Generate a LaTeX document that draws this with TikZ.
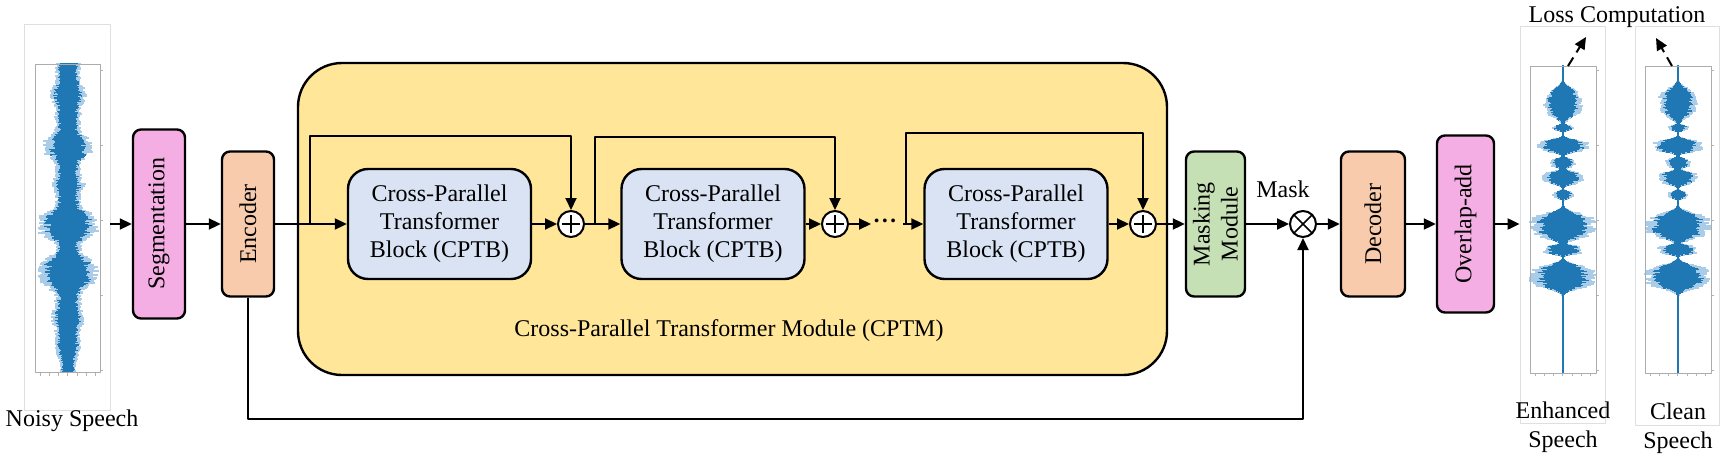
\documentclass[tikz,border=0pt]{standalone}
\usepackage{fontspec}
\setmainfont{Liberation Serif}
\usetikzlibrary{arrows.meta,positioning,calc}

\definecolor{cptmyellow}{HTML}{FFE699}
\definecolor{cptbblue}{HTML}{DAE3F3}
\definecolor{segpink}{HTML}{F4AEE4}
\definecolor{encpeach}{HTML}{F8CBAD}
\definecolor{maskgreen}{HTML}{C5E0B4}
\definecolor{wavedarkc}{HTML}{1F77B4}
\definecolor{wavelightc}{HTML}{A9CCE8}

\tikzset{
  blk/.style={draw, line width=1.2pt, rounded corners=4pt, inner sep=0pt,
    font=\fontsize{12}{14}\selectfont, align=center},
  vblk/.style={blk, rotate=90},
  cptb/.style={blk, fill=cptbblue, rounded corners=10pt,
    minimum width=91.5pt, minimum height=55pt},
  opnode/.style={draw, circle, line width=1pt, fill=white, minimum size=13pt, inner sep=0pt},
  addnode/.style={opnode, path picture={
    \draw[line width=0.6pt] ([xshift=-4.5pt]path picture bounding box.center) -- ([xshift=4.5pt]path picture bounding box.center)
      ([yshift=-4.5pt]path picture bounding box.center) -- ([yshift=4.5pt]path picture bounding box.center);}},
  mulnode/.style={opnode, path picture={
    \draw[line width=0.8pt] (path picture bounding box.north west) -- (path picture bounding box.south east)
      (path picture bounding box.north east) -- (path picture bounding box.south west);}},
  flow/.style={->, line width=1pt},
  outerframe/.style={draw=gray!25, line width=0.4pt, inner sep=0pt},
  plotframe/.style={draw=gray!65, line width=0.5pt},
  wavelight/.style={wavelightc, line width=0.6pt},
  wavedark/.style={wavedarkc, line width=0.6pt},
  lbl/.style={font=\fontsize{12}{14.5}\selectfont, align=center},
}

% center x, top y, bottom y, envelope
\newcommand\speechwave[4]{%
  \foreach \yy in {#2,...,#3}{
    \pgfmathsetmacro\ee{#4(\yy)}
    \pgfmathsetmacro\la{\ee*(0.9+0.4*rnd)+0.7}
    \pgfmathsetmacro\ra{\ee*(0.9+0.4*rnd)+0.7}
    \pgfmathsetmacro\lb{\ee*(0.65+0.35*rnd)+0.7}
    \pgfmathsetmacro\rb{\ee*(0.65+0.35*rnd)+0.7}
    \draw[wavelight] (#1-\la,\yy) -- (#1+\ra,\yy);
    \draw[wavedark] (#1-\lb,\yy) -- (#1+\rb,\yy);
  }}

\begin{document}
\begin{tikzpicture}[x=0.5pt, y=-0.5pt, >={Triangle[length=6pt,width=5.5pt]},
  line join=round,
  declare function={
    bump(\t,\c,\s)=exp(-min(((\t-\c)/\s)^2,20)^2);
    envN(\t)=10+4*bump(\t,95,10)+9*bump(\t,147,12)+3*bump(\t,185,6)
      +14*bump(\t,225,14)+14*bump(\t,273,16)+3*bump(\t,318,8)-4*bump(\t,372,18);
    envE(\t)=15*bump(\t,103,16)+8*bump(\t,128,3)+20*bump(\t,146,7)
      +10*bump(\t,163,5)+16*bump(\t,178,7)+8*bump(\t,195,4)
      +26*bump(\t,226,14)+16*bump(\t,250,5)+26*bump(\t,277,13);
  }]
\useasboundingbox (0,0) rectangle (1730,466);
\pgfmathsetseed{11}

% speech plots
\node[outerframe, minimum width=43pt, minimum height=193pt] (noisy) at (67,217) {};
\node[outerframe, minimum width=42.5pt, minimum height=198.5pt] (enh) at (1562.5,224.5) {};
\node[outerframe, minimum width=42pt, minimum height=199.5pt] (clean) at (1677,225.5) {};
\speechwave{68}{64}{372}{envN}
\speechwave{1563}{66}{373}{envE}
\speechwave{1678}{66}{373}{envE}
\draw[plotframe] (35,64) rectangle (100,372);
\draw[plotframe] (1530,66) rectangle (1596,373);
\draw[plotframe] (1645,66) rectangle (1711,373);
\foreach \px in {100,1596,1711}
  \foreach \py in {0,1,2,3,4}
    \draw[gray!60, line width=0.3pt] (\px,{70+\py*75}) -- ++(3,0);
\foreach \px in {35,1530,1645}
  \foreach \i in {0,...,6}
    \draw[gray!60, line width=0.3pt] ({\px+5+\i*9.2},373) -- ++(0,3);

% main blocks
\node[blk, fill=cptmyellow, rounded corners=22pt, minimum width=434.5pt, minimum height=156pt] (cptm) at (732.5,219) {};
\node[lbl] (cptmlbl) at (729,331) {Cross-Parallel Transformer Module (CPTM)};
\node[vblk, fill=segpink, minimum width=94.5pt, minimum height=26pt] (seg) at (159,224) {Segmentation};
\node[vblk, fill=encpeach, minimum width=72.5pt, minimum height=26pt] (enc) at (248,224) {Encoder};
\node[cptb] (b1) at (439.5,224) {Cross-Parallel\\Transformer\\Block (CPTB)};
\node[cptb] (b2) at (713,224) {Cross-Parallel\\Transformer\\Block (CPTB)};
\node[cptb] (b3) at (1016,224) {Cross-Parallel\\Transformer\\Block (CPTB)};
\node[addnode] (add1) at (571,224) {};
\node[addnode] (add2) at (835,224) {};
\node[addnode] (add3) at (1143,224) {};
\node[vblk, fill=maskgreen, minimum width=72.5pt, minimum height=29.5pt] (mm) at (1215.5,224) {Masking\\Module};
\node[mulnode] (mul) at (1303,224) {};
\node[lbl] (masklbl) at (1283,189) {Mask};
\node[vblk, fill=encpeach, minimum width=72.5pt, minimum height=32pt] (dec) at (1373,224) {Decoder};
\node[vblk, fill=segpink, minimum width=88.5pt, minimum height=28.5pt] (ola) at (1465.5,224) {Overlap-add};
\node[font=\fontsize{16}{16}\selectfont, inner sep=0pt, anchor=base] (dots) at (885,231)
  {\textperiodcentered\kern-1.2pt\textperiodcentered\kern-1.2pt\textperiodcentered};

% labels
\node[lbl] (noisylbl) at (72,421) {Noisy Speech};
\node[lbl] (enhlbl) at (1563,427) {Enhanced\\Speech};
\node[lbl] (cleanlbl) at (1678,428) {Clean\\Speech};
\node[lbl] (loss) at (1617,17) {Loss Computation};

% connections
\coordinate (noisyout) at (110,224);
\coordinate (br1) at (310,224);
\coordinate (top1) at (310,136);
\coordinate (br2) at (595,224);
\coordinate (top2) at (595,137);
\coordinate (dotsin) at (871,224);
\coordinate (br3) at (903,224);
\coordinate (top3) at (906,133);
\coordinate (low) at (248,419);
\draw[flow] (noisyout) -- (seg);
\draw[flow] (seg) -- (enc);
\draw[flow] (enc) -- (b1);
\draw[flow] (br1) -- (top1) -| (add1);
\draw[flow] (b1) -- (add1);
\draw[flow] (add1) -- (b2);
\draw[flow] (br2) -- (top2) -| (add2);
\draw[flow] (b2) -- (add2);
\draw[flow] (add2) -- (dotsin);
\draw[flow] (br3) -- (b3);
\draw[flow] (br3 -| top3) -- (top3) -| (add3);
\draw[flow] (b3) -- (add3);
\draw[flow] (add3) -- (mm);
\draw[flow] (mm) -- (mul);
\draw[flow] (mul) -- (dec);
\draw[flow] (dec) -- (ola);
\draw[flow] (ola) -- (ola -| enh.west);
\draw[flow] (enc) -- (low) -| (mul);

% loss arrows
\coordinate (enhtop) at (1568,66);
\coordinate (enhloss) at (1586,37);
\coordinate (cleantop) at (1672,66);
\coordinate (cleanloss) at (1656,38);
\draw[flow, dashed, dash pattern=on 5pt off 3pt] (enhtop) -- (enhloss);
\draw[flow, dashed, dash pattern=on 5pt off 3pt] (cleantop) -- (cleanloss);
\end{tikzpicture}
\end{document}
